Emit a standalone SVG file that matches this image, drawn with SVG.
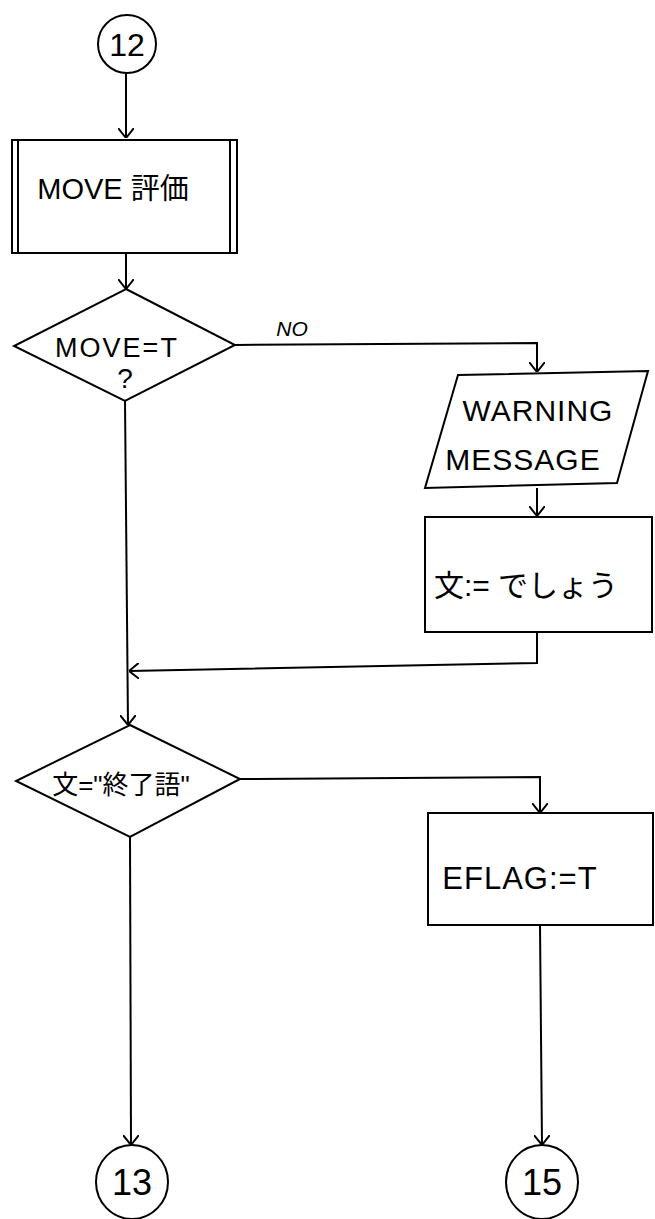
<svg xmlns="http://www.w3.org/2000/svg" width="655" height="1219" viewBox="0 0 655 1219">
<style>
.shape{fill:none;stroke:#000;stroke-width:2}
.conn{fill:none;stroke:#000;stroke-width:2}
.t{font-family:"Liberation Sans","Noto Sans CJK JP",sans-serif;fill:#000;text-anchor:middle}
</style>
<defs>
<marker id="ah" viewBox="0 0 10 16" refX="10" refY="8" markerWidth="10" markerHeight="16" markerUnits="userSpaceOnUse" orient="auto">
<path d="M0,0 L10,8 L0,16" fill="none" stroke="#000" stroke-width="2"/>
</marker>
</defs>
<rect width="655" height="1219" fill="#fff"/>
<g id="connectors">
<path class="conn" d="M126,73 L126,138" marker-end="url(#ah)"/>
<path class="conn" d="M126,253 L126,289" marker-end="url(#ah)"/>
<path class="conn" d="M235,345 L537,343 L537,372" marker-end="url(#ah)"/>
<path class="conn" d="M537,488 L537,516" marker-end="url(#ah)"/>
<path class="conn" d="M537,632 L537,663 L129,671" marker-end="url(#ah)"/>
<path class="conn" d="M125,401 L128,725" marker-end="url(#ah)"/>
<path class="conn" d="M240,779 L540,777 L540,813" marker-end="url(#ah)"/>
<path class="conn" d="M130,837 L131,1145" marker-end="url(#ah)"/>
<path class="conn" d="M540,925 L542,1145" marker-end="url(#ah)"/>
<text class="t" x="292" y="336" font-size="21" font-style="italic">NO</text>
</g>
<g id="c12">
<circle class="shape" cx="127" cy="44" r="29"/>
<text class="t" x="127" y="56" font-size="32">12</text>
</g>
<g id="move_eval">
<rect class="shape" x="12" y="140" width="225" height="113"/>
<line class="shape" x1="18" y1="140" x2="18" y2="253"/>
<line class="shape" x1="230" y1="140" x2="230" y2="253"/>
<text class="t" x="113" y="199" font-size="29">MOVE 評価</text>
</g>
<g id="d1">
<polygon class="shape" points="126,289 235,345 125,401 14,346"/>
<text class="t" x="117" y="357" font-size="27" letter-spacing="2">MOVE=T</text>
<text class="t" x="125" y="388" font-size="28">?</text>
</g>
<g id="warn">
<polygon class="shape" points="458,375 648,371 617,483 425,488"/>
<text class="t" x="538" y="421" font-size="30" letter-spacing="1">WARNING</text>
<text class="t" x="523" y="470" font-size="30" letter-spacing="1">MESSAGE</text>
</g>
<g id="assign1">
<rect class="shape" x="425" y="517" width="227" height="115"/>
<text class="t" x="526" y="596" font-size="30">文:= でしょう</text>
</g>
<g id="d2">
<polygon class="shape" points="130,725 240,779 130,837 16,781"/>
<text class="t" x="121" y="794" font-size="26">文="終了語"</text>
</g>
<g id="eflag">
<path class="shape" d="M653,813 L428,813 L428,925 L653,925 Z"/>
<text class="t" x="520" y="889" font-size="31" letter-spacing="1">EFLAG:=T</text>
</g>
<g id="c13">
<ellipse class="shape" cx="132" cy="1182" rx="36" ry="37"/>
<text class="t" x="132" y="1195" font-size="36">13</text>
</g>
<g id="c15">
<ellipse class="shape" cx="542" cy="1182" rx="36" ry="37"/>
<text class="t" x="542" y="1195" font-size="36">15</text>
</g>
</svg>
